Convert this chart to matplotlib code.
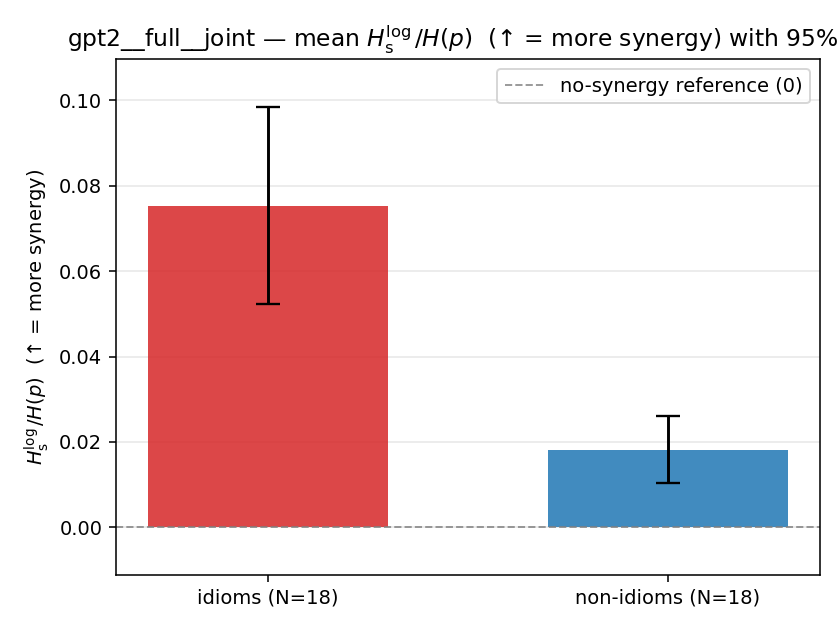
import matplotlib
matplotlib.use('Agg')
import matplotlib.pyplot as plt
import numpy as np

# values
groups = ["idioms (N=18)", "non-idioms (N=18)"]
means = [0.0752, 0.0181]
ci_low = [0.0522, 0.0104]
ci_high = [0.0984, 0.0261]
colors = ["#d62728", "#1f77b4"]

fig, ax = plt.subplots(figsize=(6, 4.5), dpi=140)
x = np.arange(len(groups))
yerr = np.array([[m - lo for m, lo in zip(means, ci_low)],
                 [hi - m for m, hi in zip(means, ci_high)]])
ax.bar(x, means, width=0.6, color=colors, alpha=0.85,
       yerr=yerr, capsize=6, error_kw=dict(elinewidth=1.5, ecolor="black", capthick=1.2))
ax.axhline(0, color="gray", linestyle="--", linewidth=1, alpha=0.8, label="no-synergy reference (0)")
ax.set_xticks(x)
ax.set_xticklabels(groups)
ax.set_ylabel(r"$H_{\mathrm{s}}^{\log}/H(p)$  (↑ = more synergy)")
ax.set_title(r"gpt2__full__joint — mean $H_{\mathrm{s}}^{\log}/H(p)$  (↑ = more synergy) with 95% CI", fontsize=12)
ax.set_ylim(-0.0112, 0.1096)
ax.yaxis.grid(True, alpha=0.3)
ax.set_axisbelow(True)
ax.legend(loc="upper right")
fig.subplots_adjust(left=0.138, right=0.976, top=0.906, bottom=0.087)
fig.savefig("out.png")
